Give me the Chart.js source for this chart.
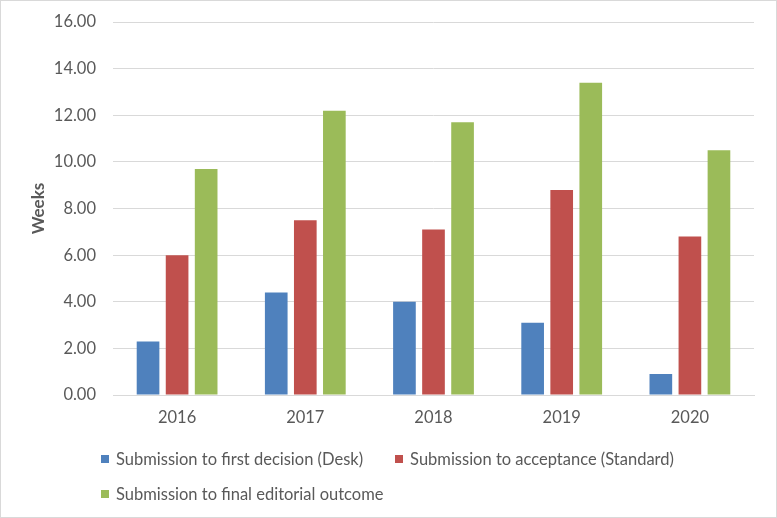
<!DOCTYPE html>
<html>
<head>
<meta charset="utf-8">
<script src="https://cdn.jsdelivr.net/npm/chart.js@4"></script>
<style>
  html, body { margin: 0; padding: 0; background: #fff; }
  #wrap { position: relative; width: 777px; height: 518px; box-sizing: border-box; border: 1px solid #d9d9d9; overflow: hidden; }
  canvas { position: absolute; left: 0; top: 0; }
  #legend { position: absolute; left: 100px; top: 446px; width: 660px; font-family: Lato, "Open Sans", sans-serif; font-size: 16.5px; color: #595959; }
  .item { display: inline-flex; align-items: center; margin-right: 32px; height: 22px; margin-bottom: 12px; white-space: nowrap; }
  .sw { width: 8px; height: 8px; margin-right: 7px; display: inline-block; }
</style>
</head>
<body>
<div id="wrap">
  <canvas id="c" width="775" height="516"></canvas>
  <div id="legend"></div>
</div>
<script>
const categories = ["2016", "2017", "2018", "2019", "2020"];
const seriesNames = [
  "Submission to first decision (Desk)",
  "Submission to acceptance (Standard)",
  "Submission to final editorial outcome"
];
const deskValues = [2.3, 4.4, 4.0, 3.1, 0.9];
const standardValues = [6.0, 7.5, 7.1, 8.8, 6.8];
const finalValues = [9.7, 12.2, 11.7, 13.4, 10.5];
const yTicks = [0, 2, 4, 6, 8, 10, 12, 14, 16];
const colors = ["#4F81BD", "#C0504D", "#9BBB59"];

const FONT = "Lato, 'Open Sans', sans-serif";
const chart = new Chart(document.getElementById("c"), {
  type: "bar",
  data: {
    labels: categories,
    datasets: [
      { label: seriesNames[0], data: deskValues, backgroundColor: colors[0] },
      { label: seriesNames[1], data: standardValues, backgroundColor: colors[1] },
      { label: seriesNames[2], data: finalValues, backgroundColor: colors[2] }
    ]
  },
  options: {
    responsive: false,
    animation: false,
    layout: { padding: { left: 27, right: 22, top: 21, bottom: 82 } },
    plugins: { legend: { display: false }, tooltip: { enabled: false } },
    datasets: { bar: { categoryPercentage: 0.68, barPercentage: 0.78 } },
    scales: {
      x: {
        grid: { display: false, drawTicks: false },
        border: { display: true, color: "#d9d9d9" },
        ticks: { color: "#595959", font: { family: FONT, size: 16.5 }, padding: 13 },
        afterFit: (s) => { s.height = 40; }
      },
      y: {
        min: 0, max: 16,
        afterBuildTicks: (s) => { s.ticks = yTicks.map(v => ({ value: v })); },
        grid: { color: "#d9d9d9", drawTicks: false },
        border: { display: false },
        ticks: { color: "#595959", font: { family: FONT, size: 16.5, lineHeight: 0.5 }, padding: 17,
                 callback: (v) => Number(v).toFixed(2) },
        title: { display: true, text: "Weeks", color: "#595959",
                 font: { family: FONT, size: 17, weight: "bold" }, padding: { top: 0, bottom: 0 } },
        afterFit: (s) => { s.width = 85; }
      }
    }
  }
});

const legend = document.getElementById("legend");
chart.data.datasets.forEach((ds, i) => {
  const it = document.createElement("span");
  it.className = "item";
  if (i === 1) it.style.marginRight = "0";
  const sw = document.createElement("span");
  sw.className = "sw";
  sw.style.background = ds.backgroundColor;
  it.appendChild(sw);
  it.appendChild(document.createTextNode(ds.label));
  legend.appendChild(it);
  if (i === 1) legend.appendChild(document.createElement("br"));
});
</script>
</body>
</html>
